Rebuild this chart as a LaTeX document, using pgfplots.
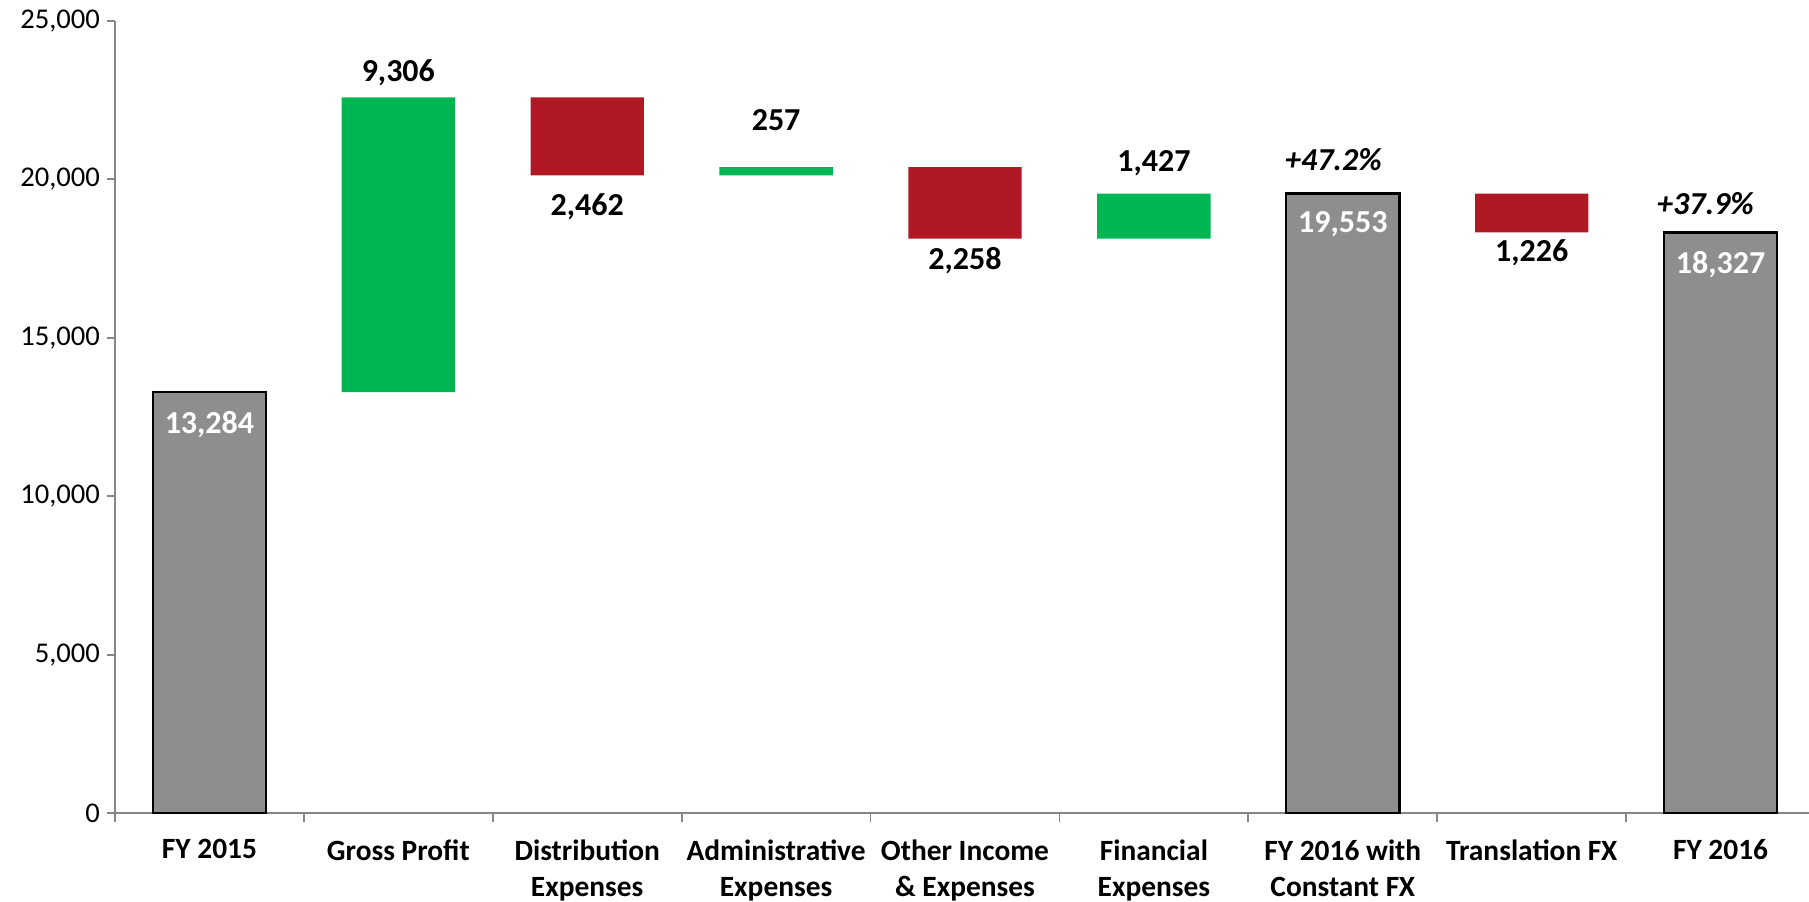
\documentclass[border=0pt]{standalone}
\usepackage{pgfplots}
\pgfplotsset{compat=1.18}
\usepackage{fontspec}
\setmainfont{Carlito}

\definecolor{gainGreen}{RGB}{0,182,82}
\definecolor{lossRed}{RGB}{176,24,36}
\definecolor{totalGray}{RGB}{142,142,142}
\definecolor{axisGray}{RGB}{134,134,134}

\pgfplotsset{
  wf/.style={
    scale only axis, width=850pt, height=396pt,
    at={(0pt,0pt)}, anchor=south west,
    xmin=-0.5, xmax=8.5, ymin=0, ymax=25000,
  },
  hidden/.style={wf, hide axis, ybar stacked, bar width=0.6},
}

\begin{document}
\begin{tikzpicture}
% axis, totals and labels
\begin{axis}[wf,
    axis lines=left,
    axis line style={axisGray, line width=0.9pt, -},
    tick align=outside,
    tick style={axisGray, line width=0.9pt},
    major tick length=4pt, minor tick length=4.5pt,
    ytick={0,5000,...,25000},
    scaled y ticks=false,
    yticklabel style={font=\fontsize{14.3}{16}\selectfont,
      /pgf/number format/1000 sep={,}},
    /pgf/number format/assume math mode=true,
    xtick={0,...,8},
    major x tick style={draw=none},
    minor xtick={-0.5,0.5,...,8.5},
    xticklabels={FY 2015, Gross Profit, {Distribution\\Expenses},
      {Administrative\\Expenses}, {Other Income\\\& Expenses},
      {Financial\\Expenses}, {FY 2016 with\\Constant FX},
      Translation FX, FY 2016},
    xticklabel style={align=center, anchor=north, yshift=-5.8pt,
      font=\bfseries\fontsize{14.7}{18}\selectfont},
  ]
\addplot[ybar, bar width=0.6, fill=totalGray, draw=black, line width=1.1pt]
  coordinates {(0,13284) (6,19553) (8,18327)};

% values above / below the floating bars
\addplot[only marks, mark=none, point meta=explicit symbolic,
  nodes near coords, nodes near coords align=center,
  every node near coord/.style={anchor=center, black,
    font=\bfseries\fontsize{16}{18}\selectfont}]
  coordinates {(1,23363) [9{,}306] (3,21870) [257] (5,20524) [1{,}427]
               (2,19140) [2{,}462] (4,17430) [2{,}258] (7,17686) [1{,}226]};

% growth percentages
\addplot[only marks, mark=none, point meta=explicit symbolic,
  nodes near coords, nodes near coords align=center,
  every node near coord/.style={anchor=center, black,
    font=\bfseries\itshape\fontsize{16}{18}\selectfont}]
  coordinates {(5.95,20633) [+47.2\%] (7.92,19250) [+37.9\%]};

% totals inside the gray bars
\addplot[only marks, mark=none, point meta=explicit symbolic,
  nodes near coords, nodes near coords align=center,
  every node near coord/.style={anchor=center, white,
    font=\bfseries\fontsize{16}{18}\selectfont}]
  coordinates {(0,12264) [13{,}284] (6,18595) [19{,}553] (8,17321) [18{,}327]};
\end{axis}

% increases
\begin{axis}[hidden]
\addplot[draw=none, fill=none] coordinates {(1,13284) (3,20128) (5,18127)};
\addplot[draw=none, fill=gainGreen] coordinates {(1,9306) (3,257) (5,1427)};
\end{axis}

% decreases
\begin{axis}[hidden]
\addplot[draw=none, fill=none] coordinates {(2,20128) (4,18127) (7,18327)};
\addplot[draw=none, fill=lossRed] coordinates {(2,2462) (4,2258) (7,1226)};
\end{axis}

\pgfresetboundingbox
\path[use as bounding box] (-57.5pt,-44pt) rectangle (847pt,406.5pt);
\end{tikzpicture}
\end{document}
